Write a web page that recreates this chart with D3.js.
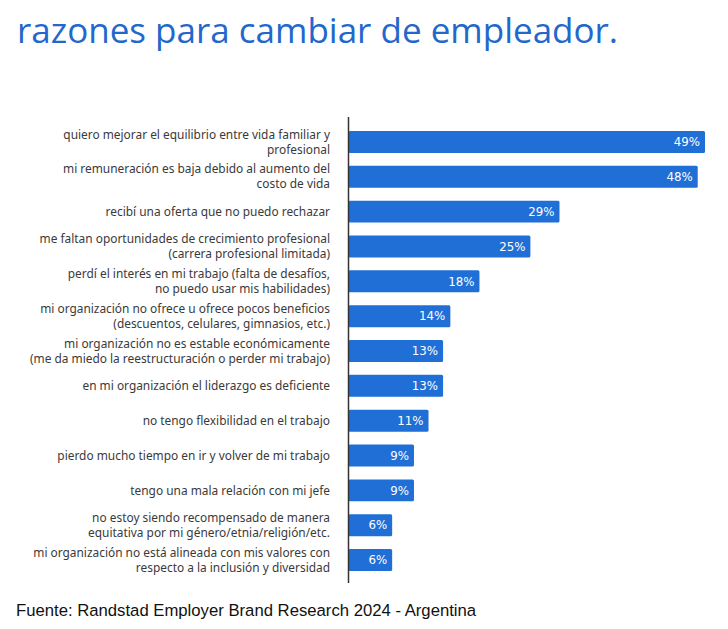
<!DOCTYPE html>
<head>
<meta charset="utf-8">
<title>Razones para cambiar de empleador</title>
<script src="https://d3js.org/d3.v7.min.js"></script>
<style>
  body { margin: 0; background: #fff; }
</style>
</head>
<body>
<div id="container"></div>
<script>
//------------------------------DATA------------------------------//
const categories = [
  ["quiero mejorar el equilibrio entre vida familiar y", "profesional"],
  ["mi remuneración es baja debido al aumento del", "costo de vida"],
  ["recibí una oferta que no puedo rechazar"],
  ["me faltan oportunidades de crecimiento profesional", "(carrera profesional limitada)"],
  ["perdí el interés en mi trabajo (falta de desafíos,", "no puedo usar mis habilidades)"],
  ["mi organización no ofrece u ofrece pocos beneficios", "(descuentos, celulares, gimnasios, etc.)"],
  ["mi organización no es estable económicamente", "(me da miedo la reestructuración o perder mi trabajo)"],
  ["en mi organización el liderazgo es deficiente"],
  ["no tengo flexibilidad en el trabajo"],
  ["pierdo mucho tiempo en ir y volver de mi trabajo"],
  ["tengo una mala relación con mi jefe"],
  ["no estoy siendo recompensado de manera", "equitativa por mi género/etnia/religión/etc."],
  ["mi organización no está alineada con mis valores con", "respecto a la inclusión y diversidad"]
];
const values = [49, 48, 29, 25, 18, 14, 13, 13, 11, 9, 9, 6, 6];

const titleText = "razones para cambiar de empleador.";
const sourceText = "Fuente: Randstad Employer Brand Research 2024 - Argentina";

//------------------------------SVG-------------------------------//
const W = 728, H = 629;
const svg = d3.select("#container").append("svg")
    .attr("width", W)
    .attr("height", H);

const blue = "#1f6fd6";

svg.append("text")
    .attr("x", 17)
    .attr("y", 43)
    .style("font-family", "'Open Sans', sans-serif")
    .style("font-size", "35px")
    .style("fill", "#2268cc")
    .text(titleText);

//-----------------------------SCALES-----------------------------//
const idx = d3.range(values.length);
const x = d3.scaleLinear().domain([0, 49]).range([348.5, 705]);
const y = d3.scaleBand().domain(idx).range([124, 578]).paddingInner(0.37).paddingOuter(0.2);

//-----------------------------BARS-------------------------------//
svg.selectAll("rect.bar")
    .data(idx)
    .enter().append("rect")
    .attr("class", "bar")
    .attr("x", x(0))
    .attr("y", i => y(i))
    .attr("width", i => x(values[i]) - x(0))
    .attr("height", y.bandwidth())
    .attr("rx", 1.5)
    .style("fill", blue);

svg.selectAll("text.val")
    .data(idx)
    .enter().append("text")
    .attr("class", "val")
    .attr("x", i => x(values[i]) - 5)
    .attr("y", i => y(i) + y.bandwidth() / 2)
    .attr("dy", "0.36em")
    .attr("text-anchor", "end")
    .style("font-family", "'DejaVu Sans', Verdana, sans-serif")
    .style("font-size", "11.8px")
    .style("fill", "#fff")
    .text(i => values[i] + "%");

//-----------------------------AXIS-------------------------------//
svg.append("line")
    .attr("x1", x(0)).attr("x2", x(0))
    .attr("y1", 117).attr("y2", 583)
    .style("stroke", "#333")
    .style("stroke-width", 1.5);

//----------------------------LABELS------------------------------//
const lineH = 15;
const labels = svg.selectAll("text.cat")
    .data(idx)
    .enter().append("text")
    .attr("class", "cat")
    .attr("text-anchor", "end")
    .style("font-family", "'Noto Sans', sans-serif")
    .style("font-size", "11.9px")
    .style("fill", "#3a3a3a");

labels.each(function(i) {
  const lines = categories[i];
  const cy = y(i) + y.bandwidth() / 2;
  const top = cy - (lines.length - 1) * lineH / 2;
  d3.select(this).selectAll("tspan")
    .data(lines)
    .enter().append("tspan")
    .attr("x", 330)
    .attr("y", (d, k) => top + k * lineH)
    .attr("dy", "0.35em")
    .text(d => d);
});

//----------------------------SOURCE------------------------------//
svg.append("text")
    .attr("x", 16)
    .attr("y", 616)
    .style("font-family", "'Liberation Sans', Arial, sans-serif")
    .style("font-size", "16.7px")
    .style("fill", "#111")
    .text(sourceText);
</script>
</body>
